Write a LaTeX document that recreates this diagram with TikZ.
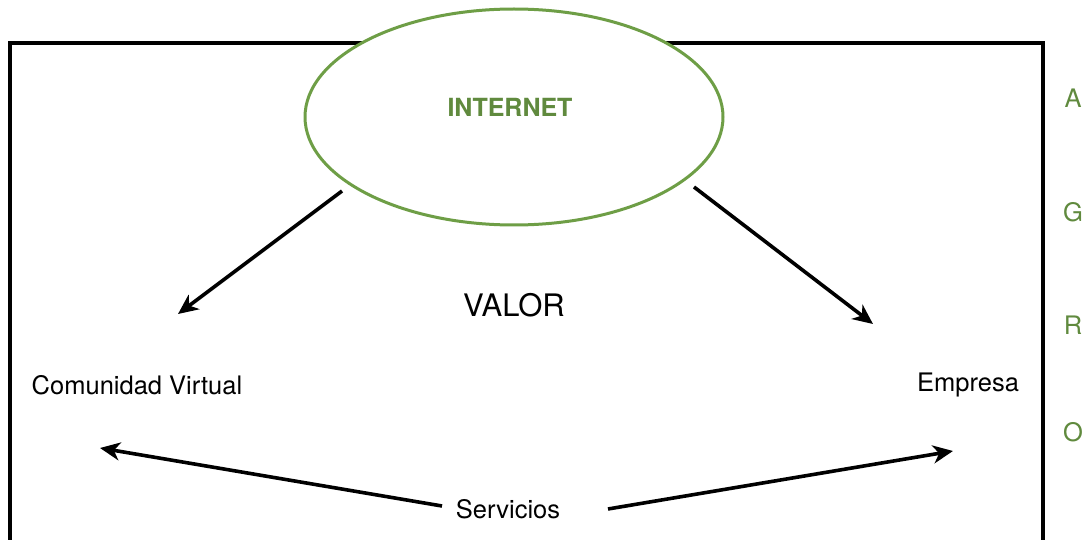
\documentclass[tikz,border=0pt]{standalone}
\usepackage{fontspec}
\setmainfont{TeX Gyre Heros}
\usetikzlibrary{arrows.meta,shapes.geometric}
\definecolor{leaf}{RGB}{110,158,70}
\definecolor{leafdark}{RGB}{96,138,62}
\begin{document}
\begin{tikzpicture}[x=1pt,y=-1pt,
  frame/.style={line width=3.6pt,black,line join=miter},
  cloud/.style={ellipse,draw=leaf,fill=white,line width=3pt,
    minimum width=418pt,minimum height=216pt,inner sep=0pt},
  flow/.style={line width=3.6pt,black,
    -{Stealth[length=20pt,width=18pt,inset=6pt]}},
  txt/.style={font=\fontsize{25.5}{30}\selectfont,inner sep=0pt},
  side/.style={font=\fontsize{25.5}{30}\selectfont,text=leafdark,inner sep=0pt}]
\useasboundingbox (0,0) rectangle (1085,540);

% open frame
\draw[frame] (10,560) -- (10,43) -- (1043,43) -- (1043,560);

% central ellipse
\node[cloud] (internet) at (514,117) {};
\node[font=\bfseries\fontsize{25}{30}\selectfont,text=leafdark,inner sep=0pt]
  (inettext) at (510,107) {INTERNET};

% labels
\node[font=\fontsize{31}{36}\selectfont,inner sep=0pt] (valor) at (514,305) {VALOR};
\node[txt] (com) at (137,385) {Comunidad Virtual};
\node[txt] (emp) at (968,385) {Empresa};
\node[txt] (serv) at (508,509) {Servicios};

% side letters
\node[side] (la) at (1073,98) {A};
\node[side] (lg) at (1073,212) {G};
\node[side] (lr) at (1073,325) {R};
\node[side] (lo) at (1073,432) {O};

% arrow end points
\coordinate (ls) at (342,191);
\coordinate (le) at (178,314);
\coordinate (rs) at (694,187);
\coordinate (re) at (873,324);
\coordinate (bls) at (442,506);
\coordinate (ble) at (100,448);
\coordinate (brs) at (608,509);
\coordinate (bre) at (953,451);

\draw[flow] (ls) -- (le);
\draw[flow] (rs) -- (re);
\draw[flow] (bls) -- (ble);
\draw[flow] (brs) -- (bre);
\end{tikzpicture}
\end{document}
